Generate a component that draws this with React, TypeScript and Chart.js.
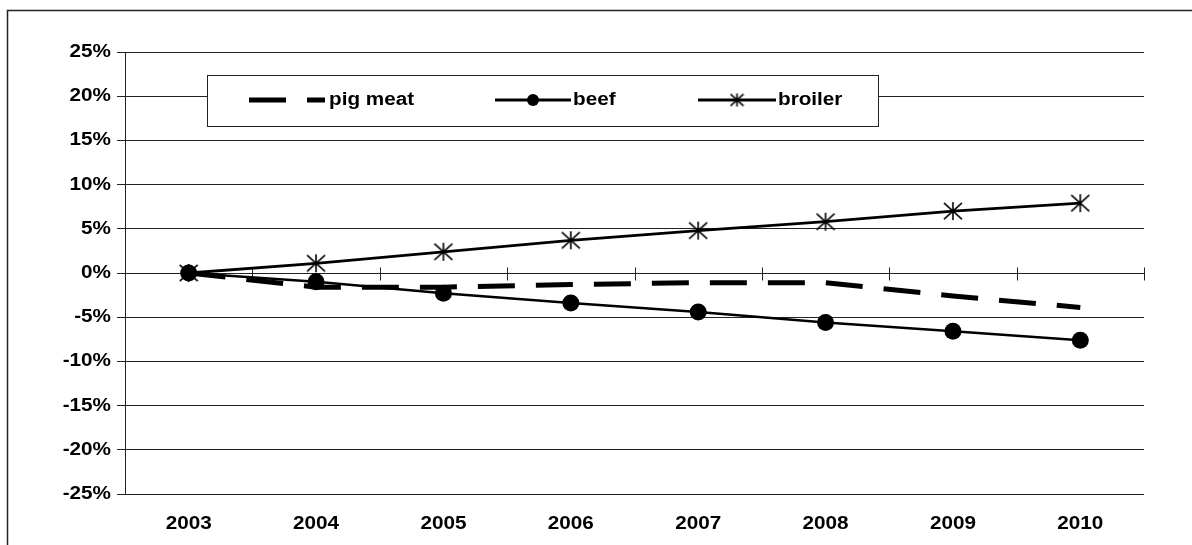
import React, { useEffect, useRef } from "react";
import { Chart, registerables } from "chart.js";

Chart.register(...registerables);

const years = ["2003", "2004", "2005", "2006", "2007", "2008", "2009", "2010"];
const pigMeat = [0, -1.6, -1.6, -1.3, -1.1, -1.1, -2.6, -3.9];
const beef = [0, -1.0, -2.3, -3.4, -4.4, -5.6, -6.6, -7.6];
const broiler = [0, 1.1, 2.4, 3.7, 4.8, 5.8, 7.0, 7.9];
const seriesNames = ["pig meat", "beef", "broiler"];
const yMin = -25;
const yMax = 25;
const yStep = 5;

const FONT = '"Liberation Sans", Arial, sans-serif';
const FONT_SIZE = 18;
const SX = 1.15; // horizontal text stretch
const INK = "#000";
const GRID = "#222";
const DASH = [37, 21];

function makeStar(size: number): HTMLCanvasElement {
  const c = document.createElement("canvas");
  c.width = size;
  c.height = size;
  const g = c.getContext("2d")!;
  g.strokeStyle = INK;
  g.lineWidth = 1.6;
  g.lineCap = "butt";
  const m = size / 2;
  const r = size / 2 - 1;
  g.beginPath();
  g.moveTo(m, m - r);
  g.lineTo(m, m + r);
  g.moveTo(m - r, m - r * 0.9);
  g.lineTo(m + r, m + r * 0.9);
  g.moveTo(m - r, m + r * 0.9);
  g.lineTo(m + r, m - r * 0.9);
  g.stroke();
  return c;
}

export default function App() {
  const ref = useRef<HTMLCanvasElement>(null);

  useEffect(() => {
    const canvas = ref.current!;
    const ctx = canvas.getContext("2d")!;
    const origFill = ctx.fillText.bind(ctx);
    (ctx as any).fillText = (text: string, x: number, y: number, maxWidth?: number) => {
      ctx.save();
      ctx.translate(x, y);
      ctx.scale(SX, 1);
      if (maxWidth === undefined || maxWidth === null) origFill(text, 0, 0);
      else origFill(text, 0, 0, maxWidth / SX);
      ctx.restore();
    };

    const star = makeStar(20);
    const legendStar = makeStar(15);

    const framePlugin = {
      id: "frame",
      beforeDraw(chart: any) {
        const c = chart.ctx;
        c.save();
        c.fillStyle = "#fff";
        c.fillRect(0, 0, chart.width, chart.height);
        c.strokeStyle = "#222";
        c.lineWidth = 1.5;
        c.beginPath();
        c.moveTo(7.5, chart.height);
        c.lineTo(7.5, 10.5);
        c.lineTo(chart.width, 10.5);
        c.stroke();
        c.restore();
      },
      beforeDatasetsDraw(chart: any) {
        const c = chart.ctx;
        const xs = chart.scales.x;
        const ys = chart.scales.y;
        const y0 = Math.round(ys.getPixelForValue(0)) + 0.5;
        const n = years.length;
        c.save();
        c.strokeStyle = GRID;
        c.lineWidth = 1;
        c.beginPath();
        for (let k = 0; k <= n; k++) {
          const px = Math.round(xs.left + (k * xs.width) / n) + 0.5;
          c.moveTo(px, y0 - 6);
          c.lineTo(px, y0 + 7);
        }
        c.stroke();
        c.restore();
      },
      afterDraw(chart: any) {
        const c = chart.ctx;
        const area = chart.chartArea;
        const bx = Math.round(area.left + 82);
        const by = Math.round(area.top + 23);
        const bw = 672;
        const bh = 52;
        const cy = by + 25;
        c.save();
        c.fillStyle = "#fff";
        c.fillRect(bx, by, bw, bh);
        c.strokeStyle = "#222";
        c.lineWidth = 1;
        c.strokeRect(bx + 0.5, by + 0.5, bw - 1, bh - 1);

        c.strokeStyle = INK;
        c.fillStyle = INK;
        // pig meat sample
        c.lineWidth = 5;
        c.setLineDash(DASH);
        c.beginPath();
        c.moveTo(bx + 42, cy);
        c.lineTo(bx + 118, cy);
        c.stroke();
        c.setLineDash([]);
        // beef sample
        c.lineWidth = 3;
        c.beginPath();
        c.moveTo(bx + 288, cy);
        c.lineTo(bx + 364, cy);
        c.stroke();
        c.beginPath();
        c.arc(bx + 326, cy, 6, 0, Math.PI * 2);
        c.fill();
        // broiler sample
        c.beginPath();
        c.moveTo(bx + 491, cy);
        c.lineTo(bx + 569, cy);
        c.stroke();
        c.drawImage(legendStar, bx + 530 - 7.5, cy - 7.5, 15, 15);

        c.font = `bold ${FONT_SIZE}px ${FONT}`;
        c.textBaseline = "middle";
        c.textAlign = "left";
        c.fillText(seriesNames[0], bx + 122, cy);
        c.fillText(seriesNames[1], bx + 366, cy);
        c.fillText(seriesNames[2], bx + 571, cy);
        c.restore();
      },
    };

    const chart = new Chart(ctx, {
      type: "line",
      data: {
        labels: years,
        datasets: [
          {
            label: seriesNames[0],
            data: pigMeat,
            borderColor: INK,
            backgroundColor: INK,
            borderWidth: 5,
            borderDash: DASH,
            pointRadius: 0,
            tension: 0,
          },
          {
            label: seriesNames[1],
            data: beef,
            borderColor: INK,
            backgroundColor: INK,
            borderWidth: 2.5,
            pointRadius: 8.5,
            pointBorderWidth: 0,
            pointBackgroundColor: INK,
            tension: 0,
          },
          {
            label: seriesNames[2],
            data: broiler,
            borderColor: INK,
            backgroundColor: INK,
            borderWidth: 2.8,
            pointStyle: star as any,
            pointRadius: 10,
            tension: 0,
          },
        ],
      },
      options: {
        responsive: false,
        animation: false,
        events: [],
        devicePixelRatio: 1,
        layout: { padding: { left: 0, top: 52, right: 48, bottom: 0 } },
        plugins: {
          legend: { display: false },
          tooltip: { enabled: false },
        },
        scales: {
          x: {
            type: "category",
            offset: true,
            grid: { display: false, drawTicks: false },
            border: { display: false },
            ticks: {
              color: INK,
              padding: 19,
              maxRotation: 0,
              autoSkip: false,
              font: { family: FONT, size: FONT_SIZE, weight: "bold" },
            },
            afterFit(scale: any) {
              scale.height = 51;
            },
          },
          y: {
            min: yMin,
            max: yMax,
            grid: { color: GRID, lineWidth: 1, tickLength: 8, drawTicks: true },
            border: { display: true, color: GRID, width: 1 },
            ticks: {
              stepSize: yStep,
              color: INK,
              padding: 6,
              font: { family: FONT, size: FONT_SIZE, weight: "bold" },
              callback: (v: any) => `${v}%`,
            },
            afterFit(scale: any) {
              scale.width = 125;
            },
          },
        },
      },
      plugins: [framePlugin],
    } as any);

    return () => {
      chart.destroy();
    };
  }, []);

  return (
    <div style={{ position: "fixed", left: 0, top: 0, width: 1192, height: 545 }}>
      <canvas ref={ref} width={1192} height={545} style={{ display: "block", width: 1192, height: 545 }} />
    </div>
  );
}
